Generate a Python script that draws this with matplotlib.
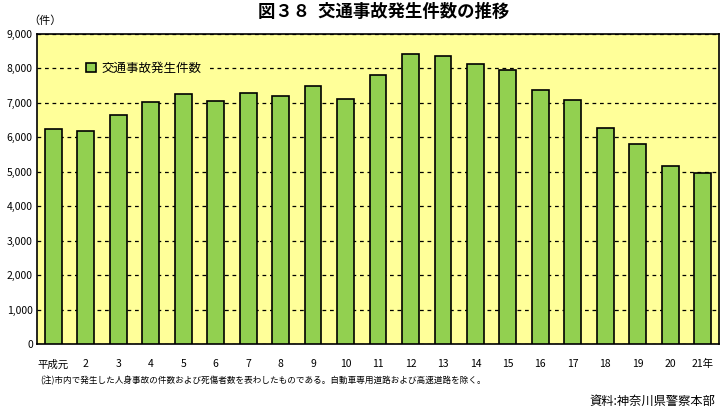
import matplotlib
matplotlib.use("Agg")
import matplotlib.pyplot as plt

plt.rcParams['font.family'] = ['Noto Sans CJK JP', 'DejaVu Sans']

categories = ['平成元', '2', '3', '4', '5', '6', '7', '8', '9', '10', '11',
              '12', '13', '14', '15', '16', '17', '18', '19', '20', '21年']
values = [6240, 6180, 6650, 7030, 7260, 7055, 7290, 7200, 7490, 7115, 7810,
          8420, 8365, 8130, 7955, 7375, 7085, 6270, 5805, 5165, 4960]
yticks = [0, 1000, 2000, 3000, 4000, 5000, 6000, 7000, 8000, 9000]

fig = plt.figure(figsize=(7.21, 4.08), dpi=100)
ax = fig.add_axes([37/721, 1-344/408, (719-37)/721, (344-34)/408])
ax.set_facecolor('#FFFF99')

x = list(range(len(categories)))
ax.bar(x, values, width=0.52, color='#92D050', edgecolor='black', linewidth=1.2, zorder=3,
       label='交通事故発生件数')
ax.set_xlim(-0.5, len(categories)-0.5)
ax.set_ylim(0, 9000)
ax.set_yticks(yticks)
ax.set_yticklabels([f'{v:,}' for v in yticks], fontsize=7.5)
ax.set_xticks(x)
ax.set_xticklabels(categories, fontsize=7.5)
ax.tick_params(axis='both', length=0)
ax.tick_params(axis='y', pad=3)
ax.tick_params(axis='x', pad=11)
ax.yaxis.grid(True, linestyle=(0, (3, 3)), color='black', linewidth=0.9, zorder=1)
for s in ax.spines.values():
    s.set_color('black')
    s.set_linewidth(1.2)

leg = ax.legend(loc='upper left', bbox_to_anchor=(0.065, 0.925), frameon=True, fontsize=9,
                handlelength=0.75, handleheight=0.75, handletextpad=0.45, borderpad=0.4,
                fancybox=False, borderaxespad=0)
leg.get_frame().set_facecolor('#FFFF99')
leg.get_frame().set_edgecolor('#FFFF99')
leg.get_frame().set_alpha(1)
leg.set_zorder(5)

fig.text(384/721, 1-12/408, '図３８  交通事故発生件数の推移', ha='center', va='center',
         fontsize=12.5, fontweight='bold')
fig.text(28/721, 1-21/408, '（件）', ha='left', va='center', fontsize=8)
fig.text(40/721, 1-381/408, '(注)市内で発生した人身事故の件数および死傷者数を表わしたものである。自動車専用道路および高速道路を除く。',
         ha='left', va='center', fontsize=6.2)
fig.text(715/721, 1-401/408, '資料:神奈川県警察本部', ha='right', va='center', fontsize=8.8)

fig.savefig('out.png', dpi=100)
